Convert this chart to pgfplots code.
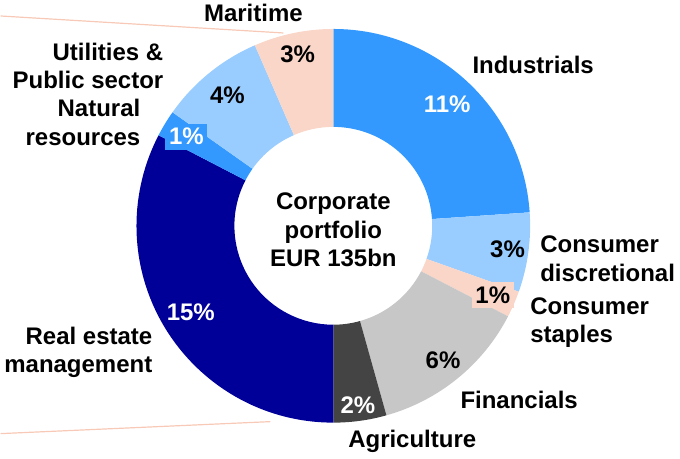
\documentclass[border=0pt]{standalone}
\usepackage{pgfplots}
\pgfplotsset{compat=1.18}
\usepackage{pgfplotstable}
\usepackage{fontspec}
\setmainfont{Liberation Sans}
\definecolor{indblue}{HTML}{3399FF}
\definecolor{lightblue}{HTML}{99CCFF}
\definecolor{peach}{HTML}{F9D6C8}
\definecolor{greyc}{HTML}{C8C7C7}
\definecolor{darkgrey}{HTML}{444444}
\definecolor{navy}{HTML}{000099}
\definecolor{linec}{HTML}{F7C9B6}

% slices clockwise from 12 o'clock; value in %, fill, text colour, label radius, label box
\pgfplotstableread{
value fc tc lr bg
11 indblue white 167 none
3 lightblue black 176 none
1 peach black 174 peach
6 greyc black 174 none
2 darkgrey white 181 none
15 navy white 167 none
1 indblue white 172 indblue
4 lightblue black 168 none
3 peach black 175 none
}\slices

\tikzset{lab/.style={font=\bfseries\fontsize{24}{28.5}\selectfont, inner sep=0pt}}

\begin{document}
\begin{tikzpicture}
\begin{axis}[x=1pt, y=1pt, xmin=0, xmax=680, ymin=0, ymax=459,
  hide axis, clip=false]
\addplot[linec, line width=1.2pt, no marks] coordinates {(0,443) (283,426)};
\addplot[linec, line width=1.2pt, no marks] coordinates {(0,25) (270,37)};
\pgfplotsextra{
  \path (axis cs:0,0) (axis cs:680,459);
  \gdef\cum{0}
  \foreach \i in {0,...,8}{
    \pgfplotstablegetelem{\i}{value}\of\slices \let\v\pgfplotsretval
    \pgfplotstablegetelem{\i}{fc}\of\slices \let\fc\pgfplotsretval
    \pgfmathsetmacro\sa{90-\cum/46*360}
    \pgfmathsetmacro\sb{90-(\cum+\v)/46*360}
    \pgfmathsetmacro\xa{333+197*cos(\sa)}
    \pgfmathsetmacro\ya{233+197*sin(\sa)}
    \pgfmathsetmacro\xb{333+99*cos(\sb)}
    \pgfmathsetmacro\yb{233+99*sin(\sb)}
    \fill[color=\fc] (axis cs:\xa,\ya) arc[start angle=\sa, end angle=\sb, radius=197pt]
      -- (axis cs:\xb,\yb) arc[start angle=\sb, end angle=\sa, radius=99pt] -- cycle;
    \pgfmathsetmacro\nc{\cum+\v}
    \xdef\cum{\nc}
  }
  \gdef\cum{0}
  \foreach \i in {0,...,8}{
    \pgfplotstablegetelem{\i}{value}\of\slices \let\v\pgfplotsretval
    \pgfplotstablegetelem{\i}{tc}\of\slices \let\tc\pgfplotsretval
    \pgfplotstablegetelem{\i}{lr}\of\slices \let\lr\pgfplotsretval
    \pgfplotstablegetelem{\i}{bg}\of\slices \let\bg\pgfplotsretval
    \pgfmathsetmacro\sm{90-(\cum+\v/2)/46*360}
    \pgfmathsetmacro\lx{333+\lr*cos(\sm)}
    \pgfmathsetmacro\ly{233+\lr*sin(\sm)}
    \node[lab, text=\tc, fill=\bg, minimum width=42pt, minimum height=26pt] at (axis cs:\lx,\ly) {\v\%};
    \pgfmathsetmacro\nc{\cum+\v}
    \xdef\cum{\nc}
  }
  \node[lab, align=center] at (axis cs:333,229) {Corporate\\portfolio\\EUR 135bn};
  \node[lab] at (axis cs:253,446) {Maritime};
  \node[lab, anchor=east, align=right] at (axis cs:163,393) {Utilities \&\\Public sector};
  \node[lab, anchor=east, align=right] at (axis cs:140,336.5) {Natural\\resources};
  \node[lab] at (axis cs:533,394) {Industrials};
  \node[lab, anchor=west, align=left] at (axis cs:540,200) {Consumer\\discretional};
  \node[lab, anchor=west, align=left] at (axis cs:530,136) {Consumer\\staples};
  \node[lab] at (axis cs:519,59) {Financials};
  \node[lab] at (axis cs:412,17) {Agriculture};
  \node[lab, anchor=east, align=right] at (axis cs:152,106.5) {Real estate\\management};
}
\end{axis}
\end{tikzpicture}
\end{document}
